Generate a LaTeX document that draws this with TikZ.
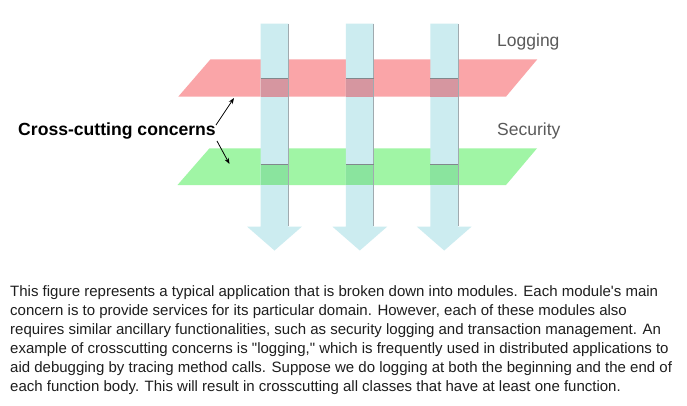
\documentclass[tikz,border=0pt]{standalone}
\usepackage{fontspec}
\newfontfamily\arial{Liberation Sans}
\usetikzlibrary{arrows.meta}
\definecolor{bandpink}{RGB}{250,165,168}
\definecolor{bandgreen}{RGB}{160,245,165}
\definecolor{modcyan}{RGB}{204,236,240}
\definecolor{mixpink}{RGB}{214,150,160}
\definecolor{mixgreen}{RGB}{138,228,158}
\definecolor{edgegray}{RGB}{160,170,175}
\definecolor{labelgray}{RGB}{90,90,90}
\definecolor{captext}{RGB}{30,30,30}
\begin{document}
\begin{tikzpicture}[x=1pt,y=-1pt,
  caption/.style={anchor=base west,inner sep=0pt,font=\arial\fontsize{15}{19}\selectfont,text=captext},
  layerlabel/.style={anchor=base west,inner sep=0pt,font=\arial\fontsize{17.5}{20}\selectfont,text=labelgray},
  pointer/.style={draw=black,line width=0.8pt,-{Stealth[length=6pt,width=4.5pt]}},
  module/.style={fill=modcyan,draw=none}]
\useasboundingbox (0,0) rectangle (687,405);
\fill[white] (0,0) rectangle (687,405);
% bands
\fill[bandpink] (210.5,59.3) -- (537.3,59.3) -- (506,96.6) -- (178.3,96.6) -- cycle;
\fill[bandgreen] (209.5,148.3) -- (537,148.3) -- (506,185) -- (177.5,185) -- cycle;
% module arrows
\foreach \c in {274.5,359.8,444.2}{
  \fill[modcyan] (\c-13.9,23.5) -- (\c+13.9,23.5) -- (\c+13.9,226.7) -- (\c+27.3,226.7)
     -- (\c,250.5) -- (\c-27.3,226.7) -- (\c-13.9,226.7) -- cycle;
  \fill[mixpink] (\c-13.9,78.7) rectangle (\c+13.9,96.6);
  \fill[mixgreen] (\c-13.9,164) rectangle (\c+13.9,185);
  \draw[edgegray,line width=0.7pt] (\c+13.9,24) -- (\c+13.9,226.2);
  \draw[edgegray!80!black,line width=0.5pt] (\c-13.9,78.7) -- (\c+13.9,78.7);
  \draw[edgegray!80!black,line width=0.5pt] (\c-13.9,164) -- (\c+13.9,164);
}
% labels
\node[layerlabel] (logging) at (497,46) {Logging};
\node[layerlabel] (security) at (497,135) {Security};
\node[anchor=base west,inner sep=0pt,font=\arial\bfseries\fontsize{17.6}{20}\selectfont,text=black] (cc) at (18,135) {Cross-cutting concerns};
\coordinate (pinktip) at (234,98);
\coordinate (greentip) at (229.5,164);
\draw[pointer] ([xshift=0pt,yshift=-3pt]cc.north east) -- (pinktip);
\draw[pointer] ([xshift=1pt,yshift=-2pt]cc.south east) -- (greentip);
% caption
\node[caption] (l1) at (10,296) {This figure represents a typical application that is broken down into modules. Each module's main};
\node[caption] (l2) at (10,315) {concern is to provide services for its particular domain. However, each of these modules also};
\node[caption] (l3) at (10,334) {requires similar ancillary functionalities, such as security logging and transaction management. An};
\node[caption] (l4) at (10,353) {example of crosscutting concerns is "logging," which is frequently used in distributed applications to};
\node[caption] (l5) at (10,372) {aid debugging by tracing method calls. Suppose we do logging at both the beginning and the end of};
\node[caption] (l6) at (10,391) {each function body. This will result in crosscutting all classes that have at least one function.};
\end{tikzpicture}
\end{document}
